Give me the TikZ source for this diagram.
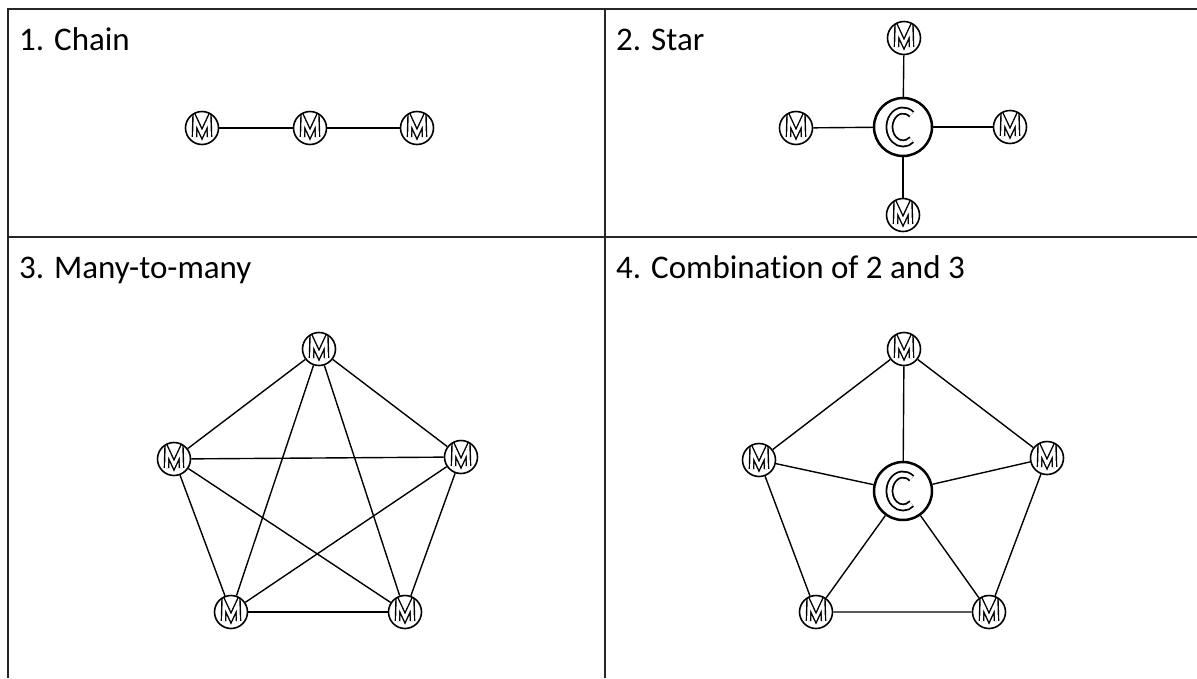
\documentclass[tikz,border=0pt]{standalone}
\usepackage{fontspec}
\setmainfont{Carlito}[RawFeature=-liga]
\begin{document}
\begin{tikzpicture}[x=1pt,y=-1pt,
  mnode/.style={circle, draw, line width=1.6pt, minimum size=33pt, inner sep=0pt, fill=white,
    path picture={\draw[x=1pt,y=1pt,line width=1.4pt, double=white, double distance=2.8pt, line join=miter, miter limit=20]
      (path picture bounding box.center) ++(-7.5,-9) -- ++(0.5,18) -- ++(7,-15) -- ++(7,15) -- ++(0.5,-18);}},
  cnode/.style={circle, draw, line width=2.5pt, minimum size=58pt, inner sep=0pt, fill=white,
    path picture={\draw[x=1pt,y=1pt,line width=1.8pt, double=white, double distance=4.2pt]
      (path picture bounding box.center) ++(50:13.5 and 16.5) arc[start angle=50,end angle=310,x radius=13.5,y radius=16.5];}},
  title/.style={anchor=base west, inner sep=0pt, font=\fontsize{33}{40}\selectfont},
  edge/.style={line width=1.4pt},
  frame/.style={line width=1.8pt, draw=black!85}]
\useasboundingbox (0,0) rectangle (1197,678);
% table frame
\coordinate (tl) at (8,9);
\coordinate (tr) at (1197,9);
\coordinate (bl) at (8,678);
\coordinate (mt) at (605,9);
\coordinate (mb) at (605,678);
\coordinate (ml) at (8,237);
\coordinate (mr) at (1197,237);
\draw[frame] (bl) -- (tl) -- (tr);
\draw[frame] (mt) -- (mb);
\draw[frame] (ml) -- (mr);
% titles
\node[title] (t1) at (19,50) {1. Chain};
\node[title] (t2) at (616,50) {2. Star};
\node[title] (t3) at (19,278) {3. Many-to-many};
\node[title] (t4) at (616,278) {4. Combination of 2 and 3};
% panel 1
\node[mnode] (a1) at (202,128) {};
\node[mnode] (a2) at (310,128) {};
\node[mnode] (a3) at (417,128) {};
\draw[edge] (a1) -- (a2) -- (a3);
% panel 2
\node[cnode] (s0) at (903,127) {};
\node[mnode] (s1) at (904,38) {};
\node[mnode] (s2) at (796,128) {};
\node[mnode] (s3) at (1010,127) {};
\node[mnode] (s4) at (903,215) {};
\foreach \n in {s1,s2,s3,s4} \draw[edge] (s0) -- (\n);
% panel 3
\node[mnode] (p1) at (319,349) {};
\node[mnode] (p2) at (174,459) {};
\node[mnode] (p3) at (461,457) {};
\node[mnode] (p4) at (231,612) {};
\node[mnode] (p5) at (405,612) {};
\draw[edge] (p1) -- (p2); \draw[edge] (p1) -- (p3); \draw[edge] (p1) -- (p4); \draw[edge] (p1) -- (p5);
\draw[edge] (p2) -- (p3); \draw[edge] (p2) -- (p4); \draw[edge] (p2) -- (p5);
\draw[edge] (p3) -- (p4); \draw[edge] (p3) -- (p5);
\draw[edge] (p4) -- (p5);
% panel 4
\node[cnode] (q0) at (903,491) {};
\node[mnode] (q1) at (904,349) {};
\node[mnode] (q2) at (759,460) {};
\node[mnode] (q3) at (1047,458) {};
\node[mnode] (q4) at (816,612) {};
\node[mnode] (q5) at (989,612) {};
\draw[edge] (q1) -- (q2) -- (q4) -- (q5) -- (q3) -- (q1);
\foreach \n in {q1,q2,q3,q4,q5} \draw[edge] (q0) -- (\n);
\end{tikzpicture}
\end{document}
